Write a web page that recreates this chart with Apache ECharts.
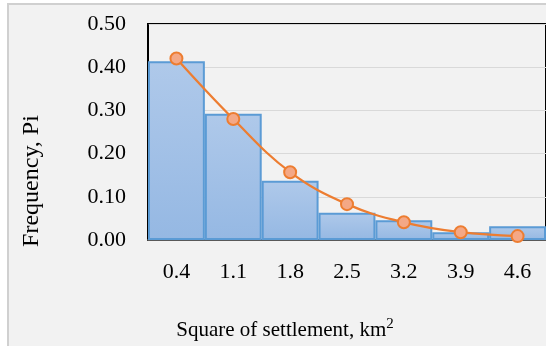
<!DOCTYPE html>
<html>
<head>
<meta charset="utf-8">
<script src="https://cdn.jsdelivr.net/npm/echarts@6/dist/echarts.min.js"></script>
<style>
  html, body { margin: 0; padding: 0; background: #ffffff; }
  #chart { width: 546px; height: 346px; }
</style>
</head>
<body>
<div id="chart"></div>
<script>
// Settlement area classes (km²)
const categories = ['0.4', '1.1', '1.8', '2.5', '3.2', '3.9', '4.6'];
// Observed relative frequency for each class
const observedFreq = [0.414, 0.292, 0.137, 0.063, 0.046, 0.018, 0.032];
// Fitted frequency curve
const fittedFreq = [0.42, 0.28, 0.157, 0.083, 0.041, 0.018, 0.009];
// Value-axis ticks
const yTicks = [0, 0.1, 0.2, 0.3, 0.4, 0.5];

const FONT = 'Liberation Serif, Times New Roman, serif';

const chart = echarts.init(document.getElementById('chart'), null, { renderer: 'canvas' });

chart.setOption({
  backgroundColor: '#ffffff',
  animation: false,
  graphic: [
    {
      type: 'rect',
      z: -10,
      shape: { x: 8, y: 4, width: 620, height: 420 },
      style: { fill: '#f2f2f2', stroke: '#d0d0d0', lineWidth: 2 }
    },
    {
      type: 'text',
      x: 32, y: 181,
      rotation: Math.PI / 2,
      style: {
        text: 'Frequency, Pi',
        font: '24px ' + FONT,
        fill: '#000000',
        textAlign: 'center',
        textVerticalAlign: 'middle'
      }
    },
    {
      type: 'text',
      x: 285, y: 329,
      style: {
        text: '{b|Square of settlement, km}{s|2}',
        fill: '#000000',
        textAlign: 'center',
        textVerticalAlign: 'middle',
        rich: {
          b: { fontFamily: FONT, fontSize: 21, lineHeight: 24, verticalAlign: 'bottom', fill: '#000000' },
          s: { fontFamily: FONT, fontSize: 15, lineHeight: 24, verticalAlign: 'top', fill: '#000000' }
        }
      }
    }
  ],
  grid: {
    left: 148,
    right: -8,
    top: 24,
    bottom: 106,
    show: true,
    borderColor: '#000000',
    borderWidth: 2,
    backgroundColor: 'transparent'
  },
  xAxis: {
    type: 'category',
    data: categories,
    boundaryGap: true,
    axisLine: { lineStyle: { color: '#595959', width: 2 } },
    axisTick: { show: false },
    axisLabel: {
      margin: 21,
      color: '#000000',
      fontFamily: FONT,
      fontSize: 22
    },
    splitLine: { show: false }
  },
  yAxis: {
    type: 'value',
    min: yTicks[0],
    max: yTicks[yTicks.length - 1],
    interval: yTicks[1] - yTicks[0],
    axisLine: { show: true, lineStyle: { color: '#000000', width: 1.5 } },
    axisTick: { show: false },
    axisLabel: {
      margin: 22,
      color: '#000000',
      fontFamily: FONT,
      fontSize: 22,
      formatter: v => v.toFixed(2)
    },
    splitLine: { show: true, lineStyle: { color: '#d9d9d9', width: 1 } }
  },
  series: [
    {
      name: 'Observed',
      type: 'bar',
      data: observedFreq,
      barCategoryGap: '0%',
      itemStyle: {
        color: new echarts.graphic.LinearGradient(0, 0, 0, 1, [
          { offset: 0, color: '#afc9ea' },
          { offset: 1, color: '#95b8e3' }
        ]),
        borderColor: '#5b9bd5',
        borderWidth: 2
      },
      z: 2
    },
    {
      name: 'Fitted',
      type: 'line',
      data: fittedFreq,
      smooth: 0.4,
      symbol: 'circle',
      symbolSize: 12,
      lineStyle: { color: '#ed7d31', width: 2.25 },
      itemStyle: { color: '#f4a886', borderColor: '#ed7d31', borderWidth: 2 },
      z: 3
    }
  ]
});
</script>
</body>
</html>
